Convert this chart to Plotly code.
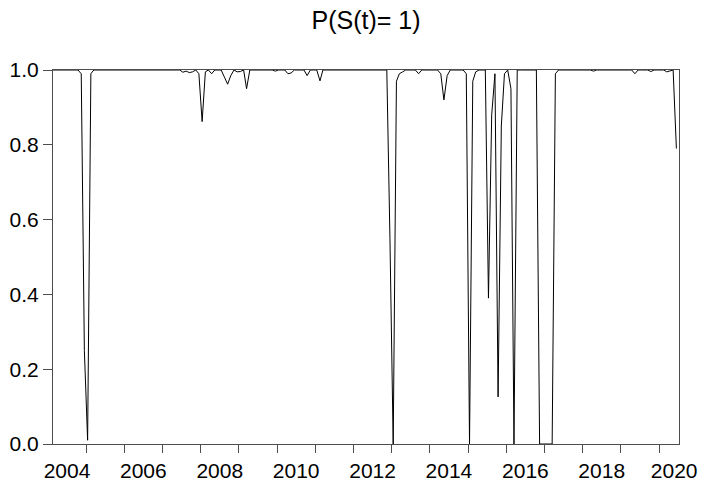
import plotly.graph_objects as go

# Smoothed regime probability P(S(t)=1), monthly, Feb 2004 - Jun 2020
p2004 = [1.0, 1.0, 1.0, 1.0, 1.0, 1.0, 1.0, 1.0, 1.0, 0.99, 0.25]         # Feb..Dec
p2005 = [0.01, 0.99, 1.0, 1.0, 1.0, 1.0, 1.0, 1.0, 1.0, 1.0, 1.0, 1.0]
p2006 = [1.0, 1.0, 1.0, 1.0, 1.0, 1.0, 1.0, 1.0, 1.0, 1.0, 1.0, 1.0]
p2007 = [1.0, 1.0, 1.0, 1.0, 1.0, 1.0, 0.994, 0.997, 0.993, 0.995, 1.0, 0.99]
p2008 = [0.862, 0.995, 1.0, 0.99, 1.0, 1.0, 1.0, 0.981, 0.962, 0.985, 1.0, 0.995]
p2009 = [0.996, 1.0, 0.95, 1.0, 1.0, 1.0, 1.0, 1.0, 1.0, 1.0, 1.0, 0.997]
p2010 = [1.0, 1.0, 1.0, 0.99, 0.992, 1.0, 1.0, 1.0, 1.0, 0.985, 1.0, 1.0]
p2011 = [1.0, 0.971, 1.0, 1.0, 1.0, 1.0, 1.0, 1.0, 1.0, 1.0, 1.0, 1.0]
p2012 = [1.0, 1.0, 1.0, 1.0, 1.0, 1.0, 1.0, 1.0, 1.0, 1.0, 1.0, 0.55]
p2013 = [0.0, 0.97, 0.99, 0.995, 1.0, 1.0, 1.0, 1.0, 0.99, 1.0, 1.0, 1.0]
p2014 = [1.0, 1.0, 1.0, 0.99, 0.92, 0.985, 1.0, 1.0, 1.0, 1.0, 1.0, 0.99]
p2015 = [0.0, 0.97, 0.995, 1.0, 1.0, 1.0, 0.39, 0.88, 0.99, 0.126, 0.85, 0.99]
p2016 = [1.0, 0.95, 0.0, 1.0, 1.0, 1.0, 1.0, 1.0, 1.0, 1.0, 0.0, 0.0]
p2017 = [0.0, 0.0, 0.0, 0.99, 1.0, 1.0, 1.0, 1.0, 1.0, 1.0, 1.0, 1.0]
p2018 = [1.0, 1.0, 1.0, 0.997, 1.0, 1.0, 1.0, 1.0, 1.0, 1.0, 1.0, 1.0]
p2019 = [1.0, 1.0, 1.0, 1.0, 0.99, 1.0, 1.0, 1.0, 1.0, 0.996, 1.0, 1.0]
p2020 = [1.0, 1.0, 0.995, 0.997, 1.0, 0.79]                              # Jan..Jun

years = [2004, 2005, 2006, 2007, 2008, 2009, 2010, 2011, 2012,
         2013, 2014, 2015, 2016, 2017, 2018, 2019, 2020]
series = [p2004, p2005, p2006, p2007, p2008, p2009, p2010, p2011, p2012,
          p2013, p2014, p2015, p2016, p2017, p2018, p2019, p2020]
first_month = {2004: 2}

label_years = ["2004", "2006", "2008", "2010", "2012", "2014", "2016", "2018", "2020"]
title_text = "P(S(t)= 1)"

dates, vals = [], []
for y, arr in zip(years, series):
    m0 = first_month.get(y, 1)
    for k, v in enumerate(arr):
        dates.append(f"{y}-{m0 + k:02d}-15")
        vals.append(v)

# year labels centred on their year; last one kept inside the frame
label_pos = [f"{y}-07-02" for y in label_years[:-1]] + ["2020-05-25"]
year_starts = [f"{y}-01-01" for y in years[1:]]

FONT = "Arial, 'Liberation Sans', sans-serif"
AX = "#4d4d4d"

fig = go.Figure()
fig.add_trace(go.Scatter(x=dates, y=vals, mode="lines",
                         line=dict(color="black", width=1),
                         hoverinfo="skip", showlegend=False))

fig.update_layout(
    width=703, height=486,
    margin=dict(l=53, r=24, t=70, b=42, autoexpand=False),
    paper_bgcolor="white", plot_bgcolor="white",
    font=dict(family=FONT, color="black", size=21),
    title=dict(text=title_text, x=0.5, xref="paper", xanchor="center",
               y=1 - 20 / 486, yref="container", yanchor="middle",
               font=dict(family=FONT, size=25, color="black")),
)

fig.update_xaxes(
    type="date", automargin=False,
    range=["2004-02-19", "2020-07-10"],
    tickmode="array", tickvals=label_pos, ticktext=label_years,
    ticks="outside", ticklen=8, tickcolor="rgba(0,0,0,0)",
    minor=dict(tickmode="array", tickvals=year_starts, ticks="outside",
               ticklen=8, tickwidth=1, tickcolor=AX, showgrid=False),
    showline=True, linecolor=AX, linewidth=1, mirror=True,
    showgrid=False, zeroline=False,
    tickfont=dict(family=FONT, size=21, color="black"),
)
fig.update_yaxes(
    automargin=False,
    range=[0, 1],
    tickmode="array", tickvals=[0.0, 0.2, 0.4, 0.6, 0.8, 1.0],
    tickformat=".1f",
    ticks="outside", ticklen=9, tickwidth=1, tickcolor=AX,
    showline=True, linecolor=AX, linewidth=1, mirror=True,
    showgrid=False, zeroline=False,
    tickfont=dict(family=FONT, size=21, color="black"),
)

fig.write_html("out.html")
